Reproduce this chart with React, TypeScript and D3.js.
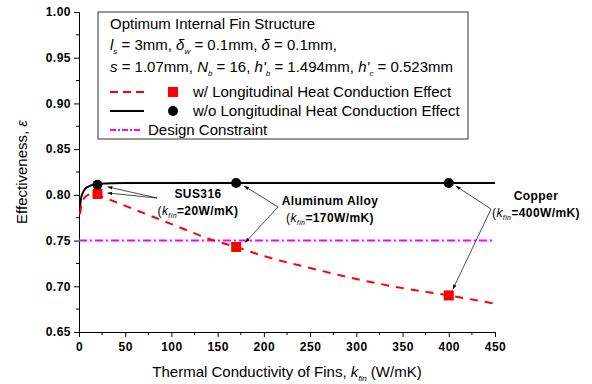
import * as d3 from "d3";
import { useEffect, useRef } from "react";

const withCondX = [1, 3, 6, 10, 15, 20, 40, 60, 80, 100, 120, 140, 170, 200, 250, 300, 350, 400, 450];
const withCondY = [0.779, 0.79, 0.797, 0.8, 0.802, 0.8, 0.792, 0.784, 0.776, 0.768, 0.76, 0.752, 0.743, 0.733, 0.72, 0.708, 0.698, 0.69, 0.681];
const noCondX = [1, 2, 4, 7, 10, 15, 20, 30, 50, 170, 400, 450];
const noCondY = [0.784, 0.795, 0.802, 0.807, 0.809, 0.811, 0.812, 0.8125, 0.813, 0.813, 0.813, 0.813];
const materialK = [20, 170, 400];
const squareY = [0.801, 0.743, 0.69];
const circleY = [0.811, 0.813, 0.813];
const constraint = 0.75;
const xTicks = [0, 50, 100, 150, 200, 250, 300, 350, 400, 450];
const yTicks = [0.65, 0.7, 0.75, 0.8, 0.85, 0.9, 0.95, 1.0];

const font = "'Liberation Sans', Arial, sans-serif";

const App = () => {
  const ref = useRef<SVGSVGElement | null>(null);

  useEffect(() => {
    const svg = d3.select(ref.current);
    svg.selectAll("*").remove();

    const x = d3.scaleLinear().domain([0, 450]).range([79, 495]);
    const y = d3.scaleLinear().domain([0.65, 1.0]).range([332, 12]);

    // axes
    const xa = svg.append("g").attr("transform", `translate(0,${y(0.65)})`);
    xa.call(
      d3.axisBottom(x).tickValues(xTicks).tickSize(5).tickFormat((d) => String(d))
    );
    xa.append("g")
      .selectAll("line")
      .data(d3.range(25, 450, 50))
      .enter()
      .append("line")
      .attr("x1", (d) => x(d))
      .attr("x2", (d) => x(d))
      .attr("y1", 0)
      .attr("y2", 3)
      .attr("stroke", "black");

    const ya = svg.append("g").attr("transform", `translate(${x(0)},0)`);
    ya.call(
      d3.axisLeft(y).tickValues(yTicks).tickSize(5).tickFormat(d3.format(".2f"))
    );
    ya.append("g")
      .selectAll("line")
      .data(d3.range(0.675, 1.0, 0.05))
      .enter()
      .append("line")
      .attr("x1", 0)
      .attr("x2", -3)
      .attr("y1", (d) => y(d))
      .attr("y2", (d) => y(d))
      .attr("stroke", "black");

    svg.selectAll(".domain").attr("stroke", "black");
    svg.selectAll(".tick line").attr("stroke", "black");
    svg
      .selectAll(".tick text")
      .attr("font-family", font)
      .attr("font-size", 12)
      .attr("font-weight", "bold")
      .attr("letter-spacing", 0.5)
      .attr("fill", "black");
    xa.selectAll(".tick text").attr("dy", "0.95em");

    // constraint line
    svg
      .append("line")
      .attr("x1", x(0))
      .attr("x2", x(450))
      .attr("y1", y(constraint))
      .attr("y2", y(constraint))
      .attr("stroke", "#ff00ff")
      .attr("stroke-width", 2)
      .attr("stroke-dasharray", "8,3,2,3");

    const line = d3
      .line<[number, number]>()
      .x((d) => x(d[0]))
      .y((d) => y(d[1]))
      .curve(d3.curveMonotoneX);

    svg
      .append("path")
      .attr("d", line(noCondX.map((v, i) => [v, noCondY[i]]))!)
      .attr("fill", "none")
      .attr("stroke", "black")
      .attr("stroke-width", 2);

    svg
      .append("path")
      .attr("d", line(withCondX.map((v, i) => [v, withCondY[i]]))!)
      .attr("fill", "none")
      .attr("stroke", "#ff0000")
      .attr("stroke-width", 2)
      .attr("stroke-dasharray", "8,7");

    // arrows
    const defs = svg.append("defs");
    defs
      .append("marker")
      .attr("id", "arr")
      .attr("viewBox", "0 0 10 10")
      .attr("refX", 10)
      .attr("refY", 5)
      .attr("markerWidth", 7)
      .attr("markerHeight", 7)
      .attr("orient", "auto")
      .append("path")
      .attr("d", "M0,1.5 L10,5 L0,8.5 z")
      .attr("fill", "black");

    const arrows: [number, number, number, number][] = [
      [157, 198, x(20) + 10, y(circleY[0]) + 2],
      [157, 198, x(20) + 10, y(squareY[0]) - 1],
      [278, 207, x(170) + 8, y(circleY[1]) + 3],
      [278, 207, x(170) + 9, y(constraint) + 2],
      [491, 209, x(400) + 7, y(circleY[2]) + 3],
      [491, 209, x(400) + 4, y(squareY[2]) - 6],
    ];
    svg
      .append("g")
      .selectAll("line")
      .data(arrows)
      .enter()
      .append("line")
      .attr("x1", (d) => d[0])
      .attr("y1", (d) => d[1])
      .attr("x2", (d) => d[2])
      .attr("y2", (d) => d[3])
      .attr("stroke", "black")
      .attr("stroke-width", 0.7)
      .attr("marker-end", "url(#arr)");

    // markers
    svg
      .append("g")
      .selectAll("rect")
      .data(materialK)
      .enter()
      .append("rect")
      .attr("x", (d) => x(d) - 5)
      .attr("y", (d, i) => y(squareY[i]) - 5)
      .attr("width", 10)
      .attr("height", 10)
      .attr("fill", "#ff0000");

    svg
      .append("g")
      .selectAll("circle")
      .data(materialK)
      .enter()
      .append("circle")
      .attr("cx", (d) => x(d))
      .attr("cy", (d, i) => y(circleY[i]))
      .attr("r", 5)
      .attr("fill", "black");

    // annotations
    const note = (cx: number, yy: number, name: string, k: number) => {
      const g = svg
        .append("g")
        .attr("font-family", font)
        .attr("font-weight", "bold")
        .attr("font-size", 12)
        .attr("letter-spacing", 0.4);
      g.append("text").attr("x", cx).attr("y", yy).attr("text-anchor", "middle").text(name);
      const t = g.append("text").attr("x", cx).attr("y", yy + 17).attr("text-anchor", "middle").attr("font-weight", "normal");
      t.append("tspan").text("(");
      t.append("tspan").attr("font-style", "italic").text("k");
      t.append("tspan").attr("font-style", "italic").attr("font-size", 7).attr("dy", 3).text("fin");
      t.append("tspan").attr("dy", -3).attr("font-weight", "bold").text(`=${k}W/mK)`);
    };
    note(198, 198, "SUS316", 20);
    note(330, 205, "Aluminum Alloy", 170);
    note(536, 200, "Copper", 400);

    // legend
    const lg = svg.append("g").attr("font-family", font).attr("font-size", 15).attr("fill", "black");
    lg.append("rect")
      .attr("x", 98)
      .attr("y", 12)
      .attr("width", 370)
      .attr("height", 127)
      .attr("fill", "white")
      .attr("stroke", "#333")
      .attr("stroke-width", 1);
    lg.append("text").attr("x", 110).attr("y", 29).text("Optimum Internal Fin Structure");

    const rich = (yy: number, parts: [string, string?][]) => {
      const t = lg.append("text").attr("x", 110).attr("y", yy);
      parts.forEach(([s, kind]) => {
        if (kind === "i") t.append("tspan").attr("font-style", "italic").text(s);
        else if (kind === "sub")
          t.append("tspan").attr("font-style", "italic").attr("font-size", 8).attr("dy", 4).text(s);
        else if (kind === "after") t.append("tspan").attr("dy", -4).text(s);
        else t.append("tspan").text(s);
      });
    };
    rich(50, [
      ["l", "i"], ["s", "sub"], [" = 3mm, ", "after"],
      ["δ", "i"], ["w", "sub"], [" = 0.1mm, ", "after"],
      ["δ", "i"], [" = 0.1mm,"],
    ]);
    rich(72, [
      ["s", "i"], [" = 1.07mm, "],
      ["N", "i"], ["b", "sub"], [" = 16, ", "after"],
      ["h'", "i"], ["b", "sub"], [" = 1.494mm, ", "after"],
      ["h'", "i"], ["c", "sub"], [" = 0.523mm", "after"],
    ]);

    lg.append("line").attr("x1", 110).attr("x2", 144).attr("y1", 92).attr("y2", 92)
      .attr("stroke", "#ff0000").attr("stroke-width", 2).attr("stroke-dasharray", "8,5");
    lg.append("rect").attr("x", 168).attr("y", 87).attr("width", 10).attr("height", 10).attr("fill", "#ff0000");
    lg.append("text").attr("x", 193).attr("y", 97).text("w/ Longitudinal Heat Conduction Effect");

    lg.append("line").attr("x1", 110).attr("x2", 144).attr("y1", 111).attr("y2", 111)
      .attr("stroke", "black").attr("stroke-width", 2);
    lg.append("circle").attr("cx", 173).attr("cy", 111).attr("r", 5).attr("fill", "black");
    lg.append("text").attr("x", 193).attr("y", 116).text("w/o Longitudinal Heat Conduction Effect");

    lg.append("line").attr("x1", 110).attr("x2", 141).attr("y1", 130).attr("y2", 130)
      .attr("stroke", "#ff00ff").attr("stroke-width", 2).attr("stroke-dasharray", "6,2,2,2");
    lg.append("text").attr("x", 148).attr("y", 135).text("Design Constraint");

    // axis titles
    const xt = svg.append("text").attr("x", 287).attr("y", 377).attr("text-anchor", "middle")
      .attr("font-family", font).attr("font-size", 15);
    xt.append("tspan").text("Thermal Conductivity of Fins, ");
    xt.append("tspan").attr("font-style", "italic").text("k");
    xt.append("tspan").attr("font-style", "italic").attr("font-size", 8).attr("dy", 4).text("fin");
    xt.append("tspan").attr("dy", -4).text(" (W/mK)");

    const yt = svg.append("text").attr("transform", `translate(27,172) rotate(-90)`).attr("text-anchor", "middle")
      .attr("font-family", font).attr("font-size", 15);
    yt.append("tspan").text("Effectiveness, ");
    yt.append("tspan").attr("font-style", "italic").text("ε");
  }, []);

  return (
    <svg
      ref={ref}
      width={592}
      height={384}
      style={{ position: "absolute", left: 0, top: 0, background: "white" }}
    />
  );
};

export default App;
